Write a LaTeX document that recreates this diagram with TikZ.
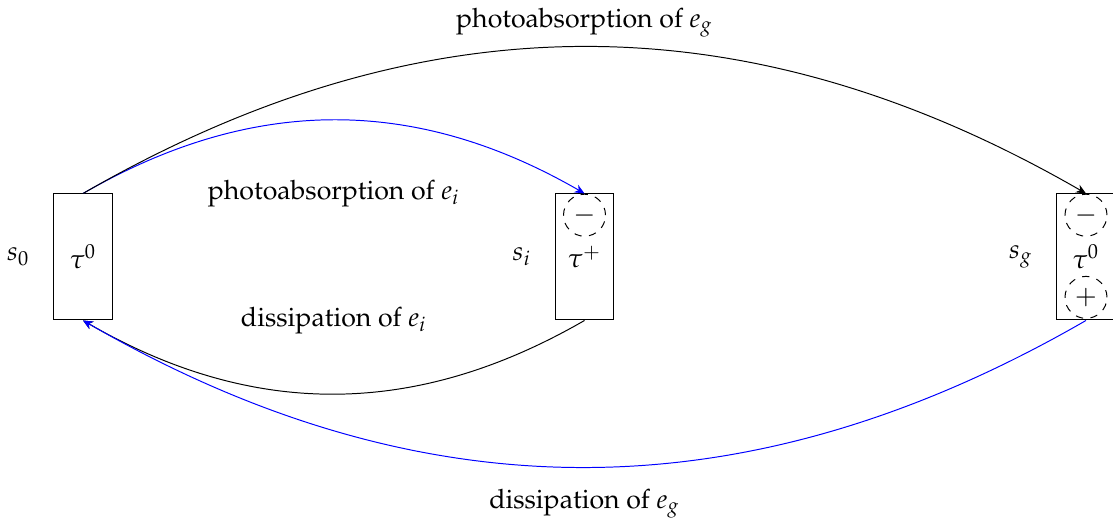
\documentclass[tikz,border=0pt]{standalone}
\usepackage[T1]{fontenc}
\usepackage{amsmath,amssymb}
\usepackage{mathpazo}
\usepackage{xcolor}
\usepackage{tikz}
\usetikzlibrary{arrows.meta,calc,positioning}
\definecolor{figline}{RGB}{0,0,0}
\definecolor{figblue}{RGB}{0,0,255}
\tikzset{
  st/.style   ={draw=figline, line width=0.4pt, minimum width=0.83cm, minimum height=1.8cm, inner sep=0pt},
  hole/.style ={draw=figline, dashed, circle, line width=0.4pt, minimum size=0.6cm, inner sep=0pt},
  lab/.style  ={inner sep=1pt},
  tr/.style   ={draw=figline, line width=0.4pt, -{Stealth[length=4pt,width=3.5pt]}},
  trb/.style  ={tr, draw=figblue},
}

\begin{document}
\begin{tikzpicture}[font=\fontsize{10.85pt}{13pt}\selectfont]
  \useasboundingbox (0,0) rectangle (15.9,7.514);
  % states
  \node[st] (s0) at (1.186,3.843) {$\tau^0$};
  \node[st,right=6.32cm of s0] (si) {$\tau^+$};
  \node[st,right=6.32cm of si] (sg) {$\tau^0$};
  \node[lab,left=0.3cm of s0] (l0) {$s_0$};
  \node[lab,left=0.3cm of si] (li) {$s_i$};
  \node[lab,left=0.3cm of sg] (lg) {$s_g$};
  % holes and electrons
  \node[hole] (hi) at ($(si.north)+(0,-0.31)$) {$-$};
  \node[hole] (hg) at ($(sg.north)+(0,-0.31)$) {$-$};
  \node[hole] (pg) at ($(sg.south)+(0,0.33)$) {$+$};
  % transitions
  \draw[trb] (s0.north) to[bend left=30] (si.north);
  \draw[tr]  (s0.north) to[bend left=30] (sg.north);
  \draw[tr]  (si.south) to[bend left=30] (s0.south);
  \draw[trb] (sg.south) to[bend left=30] (s0.south);
  \node[lab] (pe) at ($($(s0.north)!0.5!(sg.north)$)+(0,2.44)$) {photoabsorption of $e_g$};
  \node[lab] (pi) at ($(s0.north)!0.5!(si.north)$) {photoabsorption of $e_i$};
  \node[lab] (di) at ($(s0.south)!0.5!(si.south)$) {dissipation of $e_i$};
  \node[lab] (dg) at ($($(s0.south)!0.5!(sg.south)$)+(0,-2.61)$) {dissipation of $e_g$};
\end{tikzpicture}
\end{document}
